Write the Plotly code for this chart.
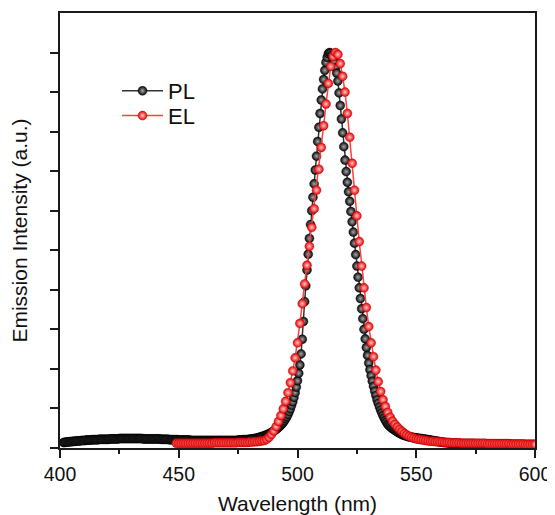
import numpy as np
import plotly.graph_objects as go

# ---------------- data ----------------
series_names = ["PL", "EL"]

pl_start_nm = 401.5
pl_step_nm = 0.5
pl_intensity = [
    # 401.5 - 409.5
    0.014, 0.014, 0.015, 0.015, 0.015, 0.016, 0.016, 0.016, 0.017, 0.017,
    0.017, 0.018, 0.018, 0.018, 0.018, 0.019, 0.019,
    # 410 - 419.5
    0.019, 0.019, 0.020, 0.020, 0.020, 0.020, 0.020, 0.021, 0.021, 0.021,
    0.021, 0.021, 0.021, 0.022, 0.022, 0.022, 0.022, 0.022, 0.022, 0.022,
    # 420 - 429.5
    0.022, 0.022, 0.023, 0.023, 0.023, 0.023, 0.023, 0.023, 0.023, 0.023,
    0.024, 0.024, 0.024, 0.024, 0.024, 0.024, 0.024, 0.024, 0.024, 0.024,
    # 430 - 439.5
    0.024, 0.024, 0.024, 0.024, 0.024, 0.024, 0.024, 0.024, 0.024, 0.024,
    0.023, 0.023, 0.023, 0.023, 0.023, 0.023, 0.023, 0.023, 0.023, 0.023,
    # 440 - 449.5
    0.023, 0.023, 0.023, 0.023, 0.023, 0.022, 0.022, 0.022, 0.022, 0.022,
    0.022, 0.022, 0.021, 0.021, 0.021, 0.021, 0.021, 0.021, 0.021, 0.021,
    # 450 - 459.5
    0.020, 0.020, 0.020, 0.020, 0.020, 0.020, 0.020, 0.020, 0.020, 0.020,
    0.019, 0.019, 0.019, 0.019, 0.019, 0.019, 0.019, 0.019, 0.019, 0.019,
    # 460 - 469.5
    0.019, 0.019, 0.019, 0.019, 0.019, 0.019, 0.019, 0.019, 0.019, 0.019,
    0.019, 0.019, 0.019, 0.019, 0.019, 0.019, 0.019, 0.019, 0.019, 0.019,
    # 470 - 479.5
    0.019, 0.019, 0.019, 0.019, 0.019, 0.019, 0.019, 0.019, 0.019, 0.019,
    0.020, 0.020, 0.020, 0.020, 0.021, 0.021, 0.021, 0.021, 0.021, 0.022,
    # 480 - 489.5
    0.022, 0.0225, 0.023, 0.0235, 0.024, 0.0245, 0.025, 0.026, 0.027, 0.028,
    0.029, 0.030, 0.031, 0.032, 0.033, 0.0345, 0.036, 0.0375, 0.039, 0.041,
    # 490 - 499.5
    0.043, 0.045, 0.047, 0.0495, 0.052, 0.055, 0.058, 0.061, 0.065, 0.069,
    0.074, 0.079, 0.085, 0.092, 0.099, 0.108, 0.117, 0.128, 0.140, 0.154,
    # 500 - 509.5
    0.170, 0.189, 0.210, 0.238, 0.275, 0.320, 0.370, 0.410, 0.450, 0.490,
    0.530, 0.565, 0.600, 0.634, 0.668, 0.703, 0.738, 0.775, 0.811, 0.846,
    # 510 - 519.5
    0.880, 0.908, 0.932, 0.955, 0.975, 0.988, 0.997, 1.000, 0.998, 0.993,
    0.985, 0.975, 0.962, 0.948, 0.928, 0.898, 0.866, 0.832, 0.797, 0.762,
    # 520 - 529.5
    0.728, 0.699, 0.672, 0.648, 0.624, 0.598, 0.572, 0.546, 0.518, 0.489,
    0.460, 0.432, 0.405, 0.378, 0.352, 0.327, 0.300, 0.276, 0.254, 0.234,
    # 530 - 539.5
    0.215, 0.198, 0.183, 0.169, 0.156, 0.144, 0.133, 0.122, 0.113, 0.104,
    0.096, 0.089, 0.082, 0.076, 0.070, 0.065, 0.060, 0.057, 0.054, 0.051,
    # 540 - 549.5
    0.049, 0.047, 0.045, 0.043, 0.041, 0.039, 0.037, 0.036, 0.034, 0.033,
    0.032, 0.031, 0.030, 0.029, 0.028, 0.028, 0.027, 0.027, 0.026, 0.026,
    # 550 - 559.5
    0.025, 0.025, 0.024, 0.024, 0.024, 0.023, 0.023, 0.022, 0.022, 0.021,
    0.021, 0.020, 0.020, 0.019, 0.019, 0.018, 0.018, 0.017, 0.017, 0.016,
    # 560 - 569.5
    0.016, 0.015, 0.015, 0.014, 0.014, 0.014, 0.013, 0.013, 0.013, 0.012,
    0.012, 0.012, 0.012, 0.012, 0.011, 0.011, 0.011, 0.011, 0.011, 0.011,
    # 570 - 579.5
    0.011, 0.011, 0.011, 0.011, 0.011, 0.011, 0.011, 0.011, 0.011, 0.011,
    0.010, 0.010, 0.010, 0.010, 0.010, 0.010, 0.010, 0.010, 0.010, 0.010,
    # 580 - 589.5
    0.010, 0.010, 0.010, 0.010, 0.010, 0.010, 0.010, 0.010, 0.010, 0.010,
    0.010, 0.010, 0.010, 0.010, 0.010, 0.010, 0.010, 0.010, 0.010, 0.010,
    # 590 - 599.5
    0.009, 0.009, 0.009, 0.009, 0.009, 0.009, 0.009, 0.009, 0.009, 0.009,
    0.009, 0.009, 0.009, 0.009, 0.009, 0.009, 0.009, 0.009, 0.009, 0.009,
    # 600
    0.009,
]

el_start_nm = 449
el_step_nm = 1.0
el_intensity = [
    # 449
    0.012,
    # 450 - 459
    0.012, 0.012, 0.012, 0.012, 0.012, 0.012, 0.012, 0.012, 0.012, 0.012,
    # 460 - 469
    0.012, 0.012, 0.012, 0.012, 0.012, 0.013, 0.013, 0.013, 0.013, 0.013,
    # 470 - 479
    0.013, 0.013, 0.013, 0.013, 0.013, 0.014, 0.014, 0.014, 0.014, 0.014,
    # 480 - 489
    0.015, 0.015, 0.016, 0.016, 0.017, 0.018, 0.019, 0.022, 0.027, 0.034,
    # 490 - 499
    0.043, 0.054, 0.067, 0.082, 0.099, 0.118, 0.140, 0.165, 0.195, 0.228,
    # 500 - 509
    0.266, 0.315, 0.365, 0.415, 0.462, 0.510, 0.558, 0.605, 0.652, 0.705,
    # 510 - 519
    0.760, 0.815, 0.870, 0.922, 0.965, 0.990, 1.000, 0.995, 0.972, 0.940,
    # 520 - 529
    0.900, 0.846, 0.786, 0.720, 0.652, 0.587, 0.522, 0.460, 0.405, 0.355,
    # 530 - 539
    0.307, 0.266, 0.231, 0.197, 0.168, 0.143, 0.122, 0.105, 0.090, 0.078,
    # 540 - 549
    0.068, 0.060, 0.053, 0.047, 0.042, 0.037, 0.033, 0.030, 0.027, 0.025,
    # 550 - 559
    0.023, 0.022, 0.021, 0.020, 0.019, 0.018, 0.017, 0.017, 0.016, 0.016,
    # 560 - 569
    0.015, 0.015, 0.014, 0.014, 0.014, 0.013, 0.013, 0.013, 0.013, 0.012,
    # 570 - 579
    0.012, 0.012, 0.012, 0.012, 0.012, 0.012, 0.012, 0.012, 0.012, 0.012,
    # 580 - 589
    0.011, 0.011, 0.011, 0.011, 0.011, 0.011, 0.011, 0.011, 0.011, 0.011,
    # 590 - 600
    0.010, 0.010, 0.010, 0.010, 0.010, 0.010, 0.009, 0.009, 0.009, 0.009, 0.009,
]

x_tick_values = [400, 450, 500, 550, 600]
x_tick_labels = ["400", "450", "500", "550", "600"]
y_tick_values = [0.0, 0.1, 0.2, 0.3, 0.4, 0.5, 0.6, 0.7, 0.8, 0.9, 1.0]

x_title = "Wavelength (nm)"
y_title = "Emission Intensity (a.u.)"

# wavelength grids (regular sampling of the spectrometer)
pl_wavelength = pl_start_nm + pl_step_nm * np.arange(len(pl_intensity))
el_wavelength = el_start_nm + el_step_nm * np.arange(len(el_intensity))

FONT = "Liberation Sans, Arial, sans-serif"
AX = "#1a1a1a"

fig = go.Figure()

fig.add_trace(go.Scatter(
    x=pl_wavelength, y=pl_intensity, name=series_names[0],
    mode="lines+markers", legend="legend",
    line=dict(color="#333333", width=1.5),
    marker=dict(size=9, color="#050505",
                gradient=dict(type="radial", color="#a8a8a8"),
                line=dict(color="#000000", width=0.4)),
    cliponaxis=True,
))

fig.add_trace(go.Scatter(
    x=el_wavelength, y=el_intensity, name=series_names[1],
    mode="lines+markers", legend="legend2",
    line=dict(color="#ff4040", width=1.5),
    marker=dict(size=9, color="#e60000",
                gradient=dict(type="radial", color="#ffc8c8"),
                line=dict(color="#c00000", width=0.4)),
    cliponaxis=True,
))

legend_style = dict(
    xanchor="left", yanchor="top",
    bgcolor="rgba(0,0,0,0)", borderwidth=0,
    font=dict(family=FONT, size=22, color="#111"),
    itemwidth=41,
)

# the page places the figure 8px in from the top-left corner of the window
fig.update_layout(
    width=547, height=507,
    margin=dict(l=52, r=20, t=5, b=67, autoexpand=False),
    paper_bgcolor="white", plot_bgcolor="white",
    font=dict(family=FONT, color="#111", size=19),
    showlegend=True,
    legend=dict(x=0.12, y=0.869, **legend_style),
    legend2=dict(x=0.12, y=0.812, **legend_style),
)

fig.update_xaxes(
    range=[400, 600], automargin=False,
    tickmode="array", tickvals=x_tick_values, ticktext=x_tick_labels,
    ticks="outside", ticklen=8, tickwidth=1.5, tickcolor=AX,
    minor=dict(ticks="outside", ticklen=4, tickwidth=1.5, tickcolor=AX,
               dtick=25, tick0=400, showgrid=False),
    showline=True, linewidth=1.5, linecolor=AX, mirror=True,
    showgrid=False, zeroline=False,
    tickfont=dict(family=FONT, size=19.5, color="#111"),
    title=dict(text=x_title, font=dict(family=FONT, size=21, color="#111"), standoff=21),
)

fig.update_yaxes(
    range=[0, 1.1], automargin=False,
    tickmode="array", tickvals=y_tick_values,
    showticklabels=False,
    ticks="outside", ticklen=8, tickwidth=1.5, tickcolor=AX,
    showline=True, linewidth=1.5, linecolor=AX, mirror=True,
    showgrid=False, zeroline=False,
    title=dict(text=y_title, font=dict(family=FONT, size=21, color="#111"), standoff=22),
)

fig.write_html("out.html")
